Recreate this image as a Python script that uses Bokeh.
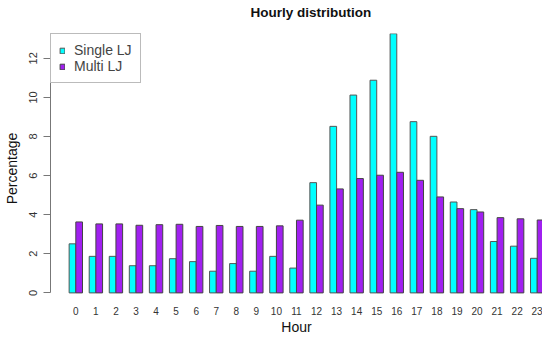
from bokeh.plotting import figure
from bokeh.models import ColumnDataSource, Range1d, FixedTicker, Legend, LegendItem, Title
from bokeh.transform import dodge
from bokeh.embed import file_html
from bokeh.resources import INLINE

hours = list(range(24))
single_lj = [2.51, 1.87, 1.87, 1.39, 1.39, 1.75, 1.60, 1.11, 1.50, 1.11, 1.87, 1.27,
             5.64, 8.52, 10.12, 10.88, 13.26, 8.76, 8.01, 4.65, 4.26, 2.63, 2.39, 1.77]
multi_lj = [3.63, 3.53, 3.53, 3.46, 3.49, 3.51, 3.40, 3.45, 3.40, 3.40, 3.43, 3.72,
            4.49, 5.32, 5.85, 6.02, 6.17, 5.76, 4.91, 4.31, 4.14, 3.85, 3.79, 3.73]
y_ticks = [0, 2, 4, 6, 8, 10, 12]
series_names = ["Single LJ", "Multi LJ"]
colors = ["#00FFFF", "#A020F0"]
title_text = "Hourly distribution"

src = ColumnDataSource(dict(hour=hours, single=single_lj, multi=multi_lj))

FONT = "Liberation Sans"

p = figure(width=542, height=337, output_backend="svg", toolbar_location=None,
           x_range=Range1d(-1.262, 23.264), y_range=Range1d(-0.542, 13.27),
           min_border_left=50, min_border_right=0, min_border_top=33, min_border_bottom=34)

r1 = p.vbar(x=dodge("hour", -1/6, range=p.x_range), top="single", bottom=0, width=1/3,
            source=src, fill_color=colors[0], line_color="#555555", line_width=1)
r2 = p.vbar(x=dodge("hour", 1/6, range=p.x_range), top="multi", bottom=0, width=1/3,
            source=src, fill_color=colors[1], line_color="#444444", line_width=1)

p.title.text = title_text
p.title.text_font = FONT
p.title.text_font_size = "13.5px"
p.title.text_font_style = "bold"
p.title.text_color = "#111111"
p.title.align = "left"
p.title.offset = 200
p.title.standoff = 0

# thin spacer between the title and the plot frame
spacer = Title(text=" ", text_font_size="1px", standoff=11)
p.add_layout(spacer, "above")

p.xgrid.visible = False
p.ygrid.visible = False
p.outline_line_color = None

xa = p.xaxis[0]
xa.ticker = FixedTicker(ticks=hours)
xa.axis_line_color = None
xa.major_tick_line_color = None
xa.major_tick_out = 0
xa.major_tick_in = 0
xa.minor_tick_line_color = None
xa.minor_tick_out = 0
xa.major_label_text_font = FONT
xa.major_label_text_font_size = "10px"
xa.major_label_text_color = "#333333"
xa.major_label_standoff = 3
xa.axis_label = "Hour"
xa.axis_label_text_font = FONT
xa.axis_label_text_font_size = "14px"
xa.axis_label_text_font_style = "normal"
xa.axis_label_text_color = "#111111"
xa.axis_label_standoff = 1

ya = p.yaxis[0]
ya.ticker = FixedTicker(ticks=y_ticks)
ya.bounds = (0, 12)
ya.axis_line_color = "#777777"
ya.major_tick_line_color = "#777777"
ya.major_tick_out = 7
ya.major_tick_in = 0
ya.minor_tick_line_color = None
ya.minor_tick_out = 0
ya.major_label_orientation = "vertical"
ya.major_label_text_font = FONT
ya.major_label_text_font_size = "11px"
ya.major_label_text_color = "#333333"
ya.major_label_standoff = 6
ya.axis_label = "Percentage"
ya.axis_label_text_font = FONT
ya.axis_label_text_font_size = "14px"
ya.axis_label_text_font_style = "normal"
ya.axis_label_text_color = "#111111"
ya.axis_label_standoff = 7

legend = Legend(items=[LegendItem(label=series_names[0], renderers=[r1]),
                       LegendItem(label=series_names[1], renderers=[r2])],
                location="top_left", margin=0, padding=8, spacing=0,
                label_height=16, glyph_height=7, glyph_width=6, label_standoff=9,
                label_text_font=FONT, label_text_font_size="14px",
                border_line_color="#777777", border_line_width=1,
                background_fill_color="white", background_fill_alpha=1)
p.add_layout(legend)

open("out.html", "w").write(file_html(p, INLINE))
